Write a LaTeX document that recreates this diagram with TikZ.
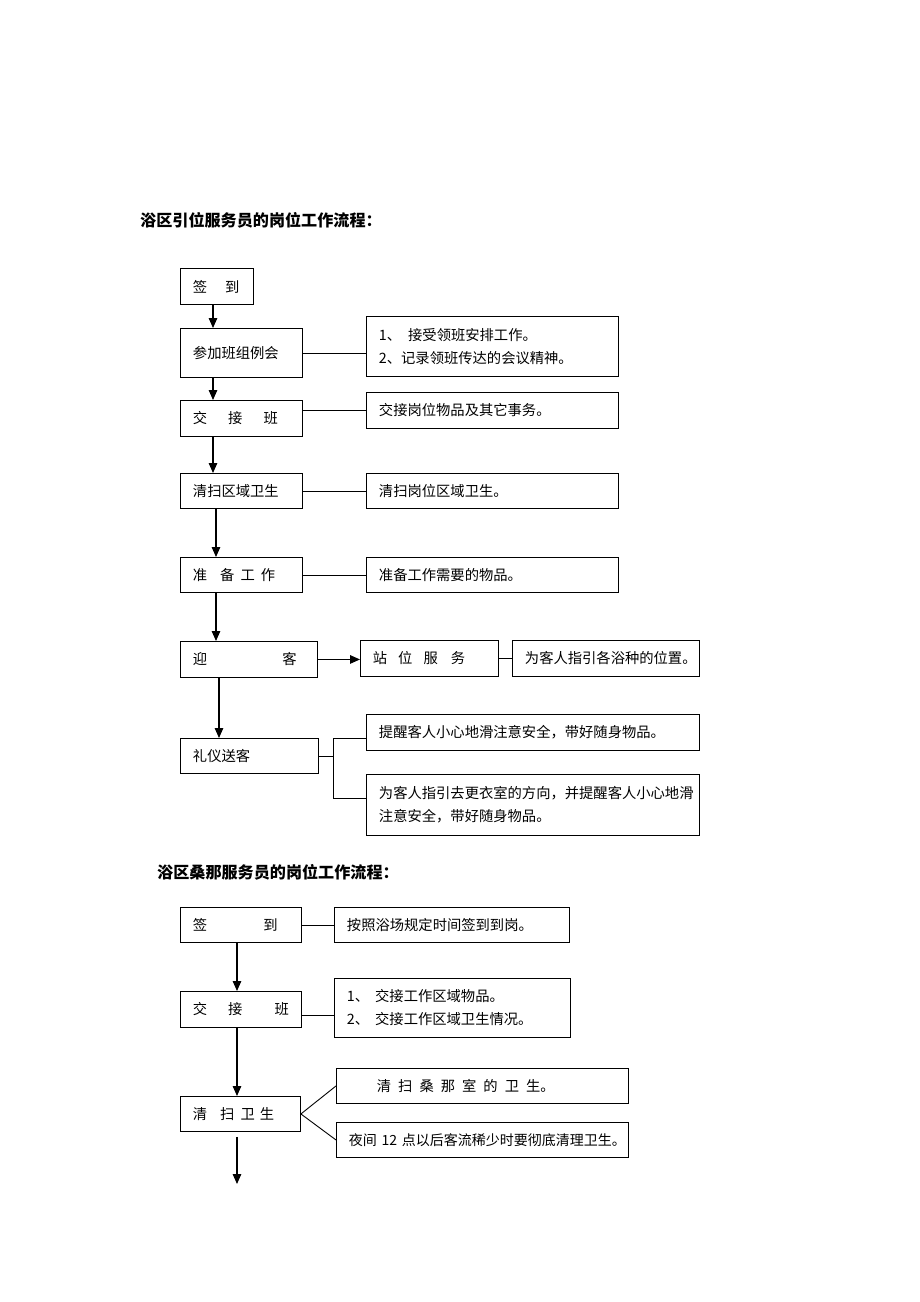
\documentclass[tikz,border=0pt]{standalone}
\usepackage{fontspec}
\usetikzlibrary{arrows.meta}
\newfontfamily\cjk{Noto Sans CJK SC}
\tikzset{
  stepbox/.style 2 args={draw, line width=0.9pt, anchor=north west, inner sep=0pt,
    text width=#1, minimum height=#2, align=left,
    font=\cjk\fontsize{14.3}{23}\selectfont,
    execute at begin node={\leftskip=12.5pt}},
  titletext/.style={anchor=west, inner sep=0pt, font=\cjk\bfseries\fontsize{16.1}{18}\selectfont},
  link/.style={line width=0.9pt},
  flow/.style={line width=1.3pt, -{Triangle[length=10pt, width=8.5pt]}}
}
\begin{document}
\begin{tikzpicture}[x=1pt, y=-1pt]
        % Page
        \path[use as bounding box, fill=white] (0,0) rectangle (920,1302);

        % First flow
        \node[titletext] (t1) at (140,220) {浴区引位服务员的岗位工作流程：};
        \node[stepbox={73}{36}] (qd1) at (180,268) {签\hspace{18pt}到};
        \node[stepbox={122}{49}] (hy) at (180,328) {参加班组例会};
        \node[stepbox={252}{60}] (hyr) at (366,316) {1、\hspace{7pt}接受领班安排工作。\\2、记录领班传达的会议精神。};
        \node[stepbox={122}{36}] (jjb1) at (180,400) {交\hspace{21pt}接\hspace{21pt}班};
        \node[stepbox={252}{36}] (jjbr) at (366,392) {交接岗位物品及其它事务。};
        \node[stepbox={122}{35}] (qs1) at (180,473) {清扫区域卫生};
        \node[stepbox={252}{35}] (qsr) at (366,473) {清扫岗位区域卫生。};
        \node[stepbox={122}{35}] (zb) at (180,557) {准\hspace{13pt}备\hspace{6pt}工\hspace{6pt}作};
        \node[stepbox={252}{35}] (zbr) at (366,557) {准备工作需要的物品。};
        \node[stepbox={137}{36}] (yk) at (180,641) {迎\hspace{75pt}客};
        \node[stepbox={138}{36}] (zw) at (360,640) {站\hspace{11pt}位\hspace{11pt}服\hspace{13pt}务};
        \node[stepbox={187}{36}] (ykr) at (512,640) {为客人指引各浴种的位置。};
        \node[stepbox={138}{35}] (ly) at (180,738) {礼仪送客};
        \node[stepbox={333}{36}] (lyr1) at (366,714) {提醒客人小心地滑注意安全，带好随身物品。};
        \node[stepbox={333}{61}] (lyr2) at (366,774) {为客人指引去更衣室的方向，并提醒客人小心地滑\\注意安全，带好随身物品。};

        \draw[flow] ([xshift=33pt]qd1.south west) -- ([xshift=33pt]hy.north west);
        \draw[flow] ([xshift=33pt]hy.south west) -- ([xshift=33pt]jjb1.north west);
        \draw[flow] ([xshift=33pt]jjb1.south west) -- ([xshift=33pt]qs1.north west);
        \draw[flow] ([xshift=36pt]qs1.south west) -- ([xshift=36pt]zb.north west);
        \draw[flow] ([xshift=36pt]zb.south west) -- ([xshift=36pt]yk.north west);
        \draw[flow] ([xshift=39pt]yk.south west) -- ([xshift=39pt]ly.north west);
        \draw[flow] (yk.east) -- (yk.east -| zw.west);

        \draw[link] (hy.east) -- (hy.east -| hyr.west);
        \draw[link] (jjb1.east |- jjbr.west) -- (jjbr.west);
        \draw[link] (qs1.east) -- (qsr.west);
        \draw[link] (zb.east) -- (zbr.west);
        \draw[link] (zw.east) -- (ykr.west);
        \draw[link] (ly.east) -- ++(15,0) coordinate (br);
        \draw[link] ([yshift=-6pt]lyr1.west) -| (br) |- ([yshift=7pt]lyr2.west);

        % Second flow
        \node[titletext] (t2) at (157,872) {浴区桑那服务员的岗位工作流程：};
        \node[stepbox={121}{35}] (qd2) at (180,907) {签\hspace{56pt}到};
        \node[stepbox={235}{35}] (qdr2) at (334,907) {按照浴场规定时间签到到岗。};
        \node[stepbox={121}{36}] (jjb2) at (180,991) {交\hspace{21pt}接\hspace{32pt}班};
        \node[stepbox={236}{59}] (jjbr2) at (334,978) {1、\hspace{6pt}交接工作区域物品。\\2、\hspace{6pt}交接工作区域卫生情况。};
        \node[stepbox={120}{35}] (qs2) at (180,1096) {清\hspace{13pt}扫\hspace{6pt}卫\hspace{5pt}生};
        \node[stepbox={292}{35}] (sn) at (336,1068) {\hspace*{28pt}清\hspace{7pt}扫\hspace{7pt}桑\hspace{7pt}那\hspace{7pt}室\hspace{7pt}的\hspace{7pt}卫\hspace{7pt}生。};
        \node[stepbox={292}{35}, font=\cjk\fontsize{14}{23}\selectfont] (yj) at (336,1122) {夜间~12~点以后客流稀少时要彻底清理卫生。};
        \coordinate (end) at (237,1184);

        \draw[link] (qd2.east) -- (qdr2.west);
        \draw[link] ([yshift=-6pt]jjb2.east) -- ([yshift=-6pt]jjb2.east -| jjbr2.west);
        \draw[link] (sn.west) -- (qs2.east) -- (yj.west);

        \draw[flow] (qd2.south -| end) -- (jjb2.north -| end);
        \draw[flow] (jjb2.south -| end) -- (qs2.north -| end);
        \draw[flow] ([yshift=-5pt]qs2.south -| end) -- (end);
      \end{tikzpicture}
\end{document}
